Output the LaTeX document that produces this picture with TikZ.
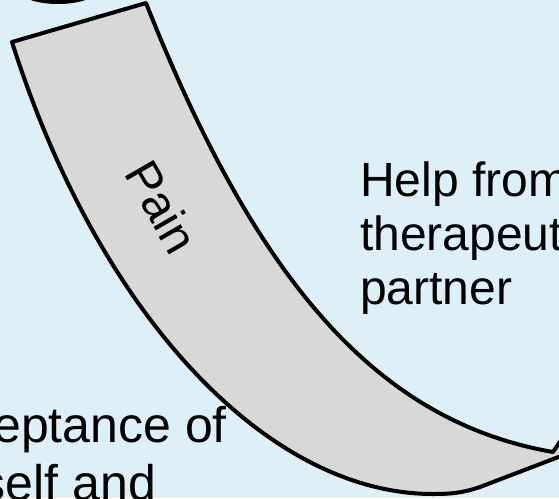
\documentclass[tikz,border=0pt]{standalone}
\usepackage{fontspec}
\setmainfont{Liberation Sans}
\usetikzlibrary{positioning}
\definecolor{skyback}{RGB}{221,240,247}
\definecolor{bandgray}{RGB}{216,216,216}

\begin{document}
\begin{tikzpicture}[x=1pt,y=-1pt,
  outline/.style={line width=4pt,line join=round},
  words/.style={font=\fontsize{48}{54}\selectfont,inner sep=0pt}]
\useasboundingbox (0,0) rectangle (559,498);
\fill[skyback] (0,0) rectangle (559,498);
\clip (0,0) rectangle (559,498);
% ring above, cut by the frame
\draw[outline] (58,-13) ellipse [x radius=40,y radius=15];
% curved band
\filldraw[outline,fill=bandgray] (12,42) -- (146,3)
  .. controls (259,288) and (381,422) .. (553,452)
  -- (585,405) -- (650,422) -- (480,487)
  .. controls (465,492) and (455,494) .. (433,494)
  .. controls (266,494) and (98,313) .. (12,42)
  -- cycle;
\node (pain) [words,rotate=-60] at (162,207) {Pain};
\node (help) [words,align=left,anchor=north west] at (360,162)
  {Help from\\therapeut\\partner};
\node (accept) [words,font=\fontsize{50}{58}\selectfont,align=center,anchor=north east] at (227,406)
  {Acceptance of\\self and};
\end{tikzpicture}
\end{document}
